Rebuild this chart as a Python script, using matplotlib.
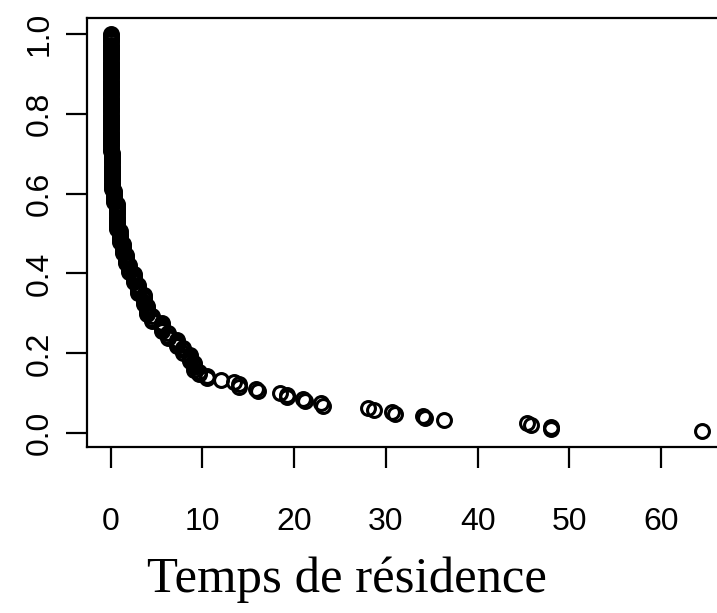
import numpy as np
import matplotlib.pyplot as plt

# Temps de résidence observés (valeurs distinctes) et nombre d'observations
temps = [0.0, 0.15, 0.4, 0.7, 1.0, 1.3, 1.7, 2.0, 2.5, 3.0,
         3.6, 4.0, 4.5, 5.6, 6.2, 7.2, 7.9, 8.6, 9.1, 9.6,
         10.5, 12.0, 13.4, 14.0, 15.8, 16.1, 18.5, 19.2, 21.0, 21.2,
         22.9, 23.1, 28.1, 28.7, 30.7, 31.0, 34.1, 34.3, 36.3, 45.4,
         45.8, 48.0, 64.5]
effectifs = [56, 18, 6, 13, 6, 5, 5, 4, 5, 5,
             5, 5, 3, 5, 3, 4, 3, 4, 4, 2,
             2, 1, 1, 2, 1, 1, 1, 2, 1, 1,
             1, 1, 1, 1, 1, 1, 1, 1, 1, 1,
             1, 2, 1]

xticks = [0, 10, 20, 30, 40, 50, 60]
yticks = [0.0, 0.2, 0.4, 0.6, 0.8, 1.0]


def main():
    # survie empirique : part des observations restantes
    x = np.repeat(temps, effectifs)
    n = len(x)
    y = (n - np.arange(n)) / n

    plt.rcParams['font.family'] = ['Liberation Sans', 'DejaVu Sans']
    fig = plt.figure(figsize=(7.17, 6.13), dpi=100)
    ax = fig.add_axes([87 / 717, 166 / 613, (726 - 87) / 717, (446 - 17) / 613])

    ax.plot(x, y, linestyle='none', marker='o', markersize=10,
            markerfacecolor='none', markeredgecolor='black',
            markeredgewidth=2.2)

    # étendue à la manière de R (4 % de chaque côté)
    dx = 0.04 * (x.max() - x.min())
    dy = 0.04 * (y.max() - y.min())
    ax.set_xlim(x.min() - dx, x.max() + dx)
    ax.set_ylim(y.min() - dy, y.max() + dy)

    ax.set_xticks(xticks)
    ax.set_xticklabels([str(t) for t in xticks])
    ax.set_yticks(yticks)
    ax.set_yticklabels([f"{t:.1f}" for t in yticks], rotation=90,
                       va='center')
    for s in ax.spines.values():
        s.set_linewidth(1.6)
    ax.tick_params(axis='both', length=15, width=1.6, labelsize=23)
    ax.tick_params(axis='x', pad=28)
    ax.tick_params(axis='y', pad=8)

    fig.text(347 / 717, 1 - 580 / 613, "Temps de résidence",
             family='Liberation Serif', fontsize=36.5,
             ha='center', va='center')

    fig.savefig("out.png", dpi=100)


if __name__ == "__main__":
    main()
